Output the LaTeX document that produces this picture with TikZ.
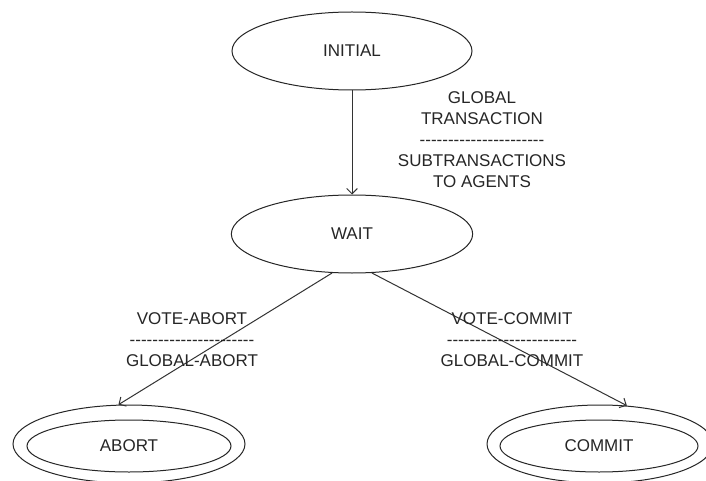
\documentclass[tikz,border=0pt]{standalone}
\usepackage{fontspec}
\setmainfont{Liberation Sans}
\usetikzlibrary{shapes.geometric,arrows.meta}
\newcommand\hyrow[1]{\foreach \i in {1,...,#1}{-}}
\begin{document}
\begin{tikzpicture}[x=0.75pt,y=-0.75pt,
  line width=0.75pt,
  state/.style={ellipse,draw=black!85,inner sep=0pt,font=\fontsize{12.75}{15}\selectfont,text=black!85},
  lbl/.style={align=center,font=\fontsize{12.75}{15.75}\selectfont,text=black!85,inner sep=0pt},
  conn/.style={draw=black!80,-{Straight Barb[length=4pt,width=8pt]}}]
\useasboundingbox (0,0) rectangle (706,481);
\clip (0,0) rectangle (706,481);
\fill[white] (0,0) rectangle (706,481);
\node[state,minimum width=180pt,minimum height=58.5pt] (initial) at (352,51) {INITIAL};
\node[state,minimum width=181pt,minimum height=58.5pt] (wait) at (352,234) {WAIT};
\node[state,minimum width=174pt,minimum height=58.5pt] (abort) at (129,444) {};
\node[state,minimum width=153pt,minimum height=39pt] (abortin) at (129,446) {ABORT};
\node[state,minimum width=169.5pt,minimum height=58.5pt] (commit) at (600,444) {};
\node[state,minimum width=148.5pt,minimum height=39pt] (commitin) at (599,446) {COMMIT};
\draw[conn] (initial) -- (wait);
\draw[conn] (wait.243) -- (abort.105);
\draw[conn] (wait.297) -- (commit.55);
\node[lbl] (l1) at (482,140) {GLOBAL\\TRANSACTION\\\hyrow{22}\\SUBTRANSACTIONS\\TO AGENTS};
\node[lbl] (l2) at (192,340) {VOTE-ABORT\\\hyrow{22}\\GLOBAL-ABORT};
\node[lbl] (l3) at (512,340) {VOTE-COMMIT\\\hyrow{23}\\GLOBAL-COMMIT};
\end{tikzpicture}
\end{document}
